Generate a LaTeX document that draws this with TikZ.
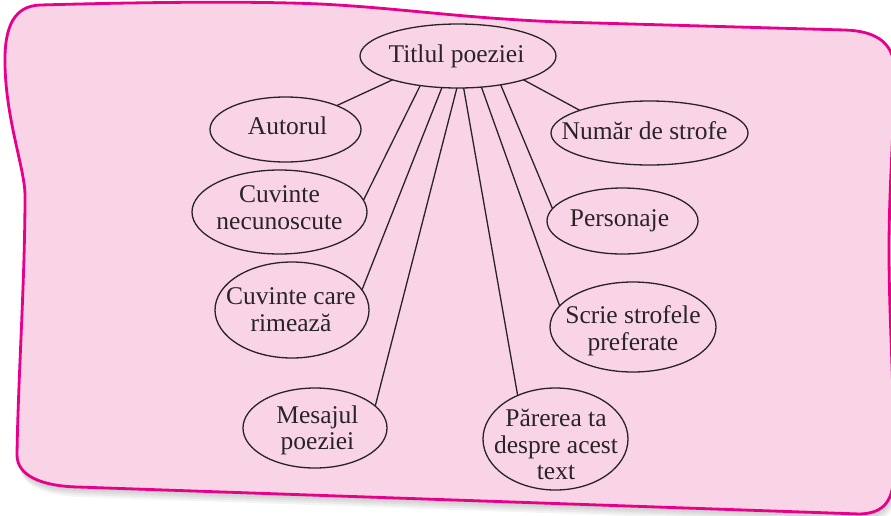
\documentclass[tikz,border=0pt]{standalone}
\usepackage{fontspec}
\setmainfont{Liberation Serif}
\usetikzlibrary{shapes.geometric}
\definecolor{pinkfill}{RGB}{249,212,230}
\definecolor{pinkline}{RGB}{232,0,138}
\definecolor{inkc}{RGB}{40,36,38}
\def\bpath{(40,5) .. controls (150,2) and (250,1) .. (320,4) .. controls (400,8) and (460,18) .. (560,22) -- (845,30) .. controls (875,31) and (892,42) .. (894,65) .. controls (895,120) and (889,180) .. (889,250) .. controls (889,320) and (894,380) .. (894,470) .. controls (894,500) and (885,513) .. (860,514) -- (78,487) .. controls (40,486) and (17,475) .. (17,455) .. controls (18,380) and (25,280) .. (25,195) .. controls (25,170) and (6,120) .. (5,65) .. controls (4,25) and (15,6) .. (40,5) -- cycle}
\begin{document}
\begin{tikzpicture}[x=1pt,y=-1pt,
  bub/.style={draw=inkc, line width=1.3pt, ellipse, inner sep=0pt, outer sep=0pt},
  lbl/.style={inner sep=0pt, align=center, text=inkc, font=\fontsize{25.5}{26.5}\selectfont},
  link/.style={draw=inkc, line width=1.3pt},
  border/.style={draw=pinkline, line width=2.8pt, fill=pinkfill},
  shade/.style={fill=black, opacity=0.045}]
\useasboundingbox (0,0) rectangle (891,515);
\fill[white] (0,0) rectangle (891,515);
\begin{scope}
\clip (0,0) rectangle (891,515);
\foreach \s in {2,4,6,8,10} {\fill[shade, shift={(\s*0.3,\s)}] \bpath;}
\path[border] \bpath;
\end{scope}
% ellipses
\node[bub, minimum width=196pt, minimum height=64pt] (t)  at (458,56) {};
\node[bub, minimum width=151pt, minimum height=65pt] (au) at (285.5,129.5) {};
\node[bub, minimum width=175pt, minimum height=84pt] (cn) at (279.5,212) {};
\node[bub, minimum width=154pt, minimum height=96pt] (cr) at (292,310) {};
\node[bub, minimum width=144pt, minimum height=80pt] (me) at (315,428) {};
\node[bub, minimum width=197pt, minimum height=64pt] (nu) at (649.5,133) {};
\node[bub, minimum width=151pt, minimum height=66pt] (pe) at (622.5,221) {};
\node[bub, minimum width=166pt, minimum height=90pt] (sc) at (633,327) {};
\node[bub, minimum width=145pt, minimum height=102pt] (pa) at (555.5,439) {};
% texts
\node[lbl] (tT)  at (456.5,56) {Titlul poeziei};
\node[lbl] (tAu) at (287.5,125.3) {Autorul};
\node[lbl] (tCn) at (279.5,207.8) {Cuvinte\\necunoscute};
\node[lbl] (tCr) at (291,309.8) {Cuvinte care\\rimează};
\node[lbl] (tMe) at (317.5,430.5) {Mesajul\\poeziei};
\node[lbl] (tNu) at (644.5,130.3) {Număr de strofe};
\node[lbl] (tPe) at (619.5,221) {Personaje};
\node[lbl] (tSc) at (633,330.5) {Scrie strofele\\preferate};
\node[lbl] (tPa) at (556,444.5) {Părerea ta\\despre acest\\text};
% links
\draw[link] (t.200) -- (au.25);
\draw[link] (t.218) -- (cn.8);
\draw[link] (t.243) -- (cr.16);
\draw[link] (t.268) -- (me.20);
\draw[link] (t.280) -- (pa.131);
\draw[link] (t.307) -- (sc.164);
\draw[link] (t.326) -- (pe.170);
\draw[link] (t.340) -- (nu.162);
\end{tikzpicture}
\end{document}
